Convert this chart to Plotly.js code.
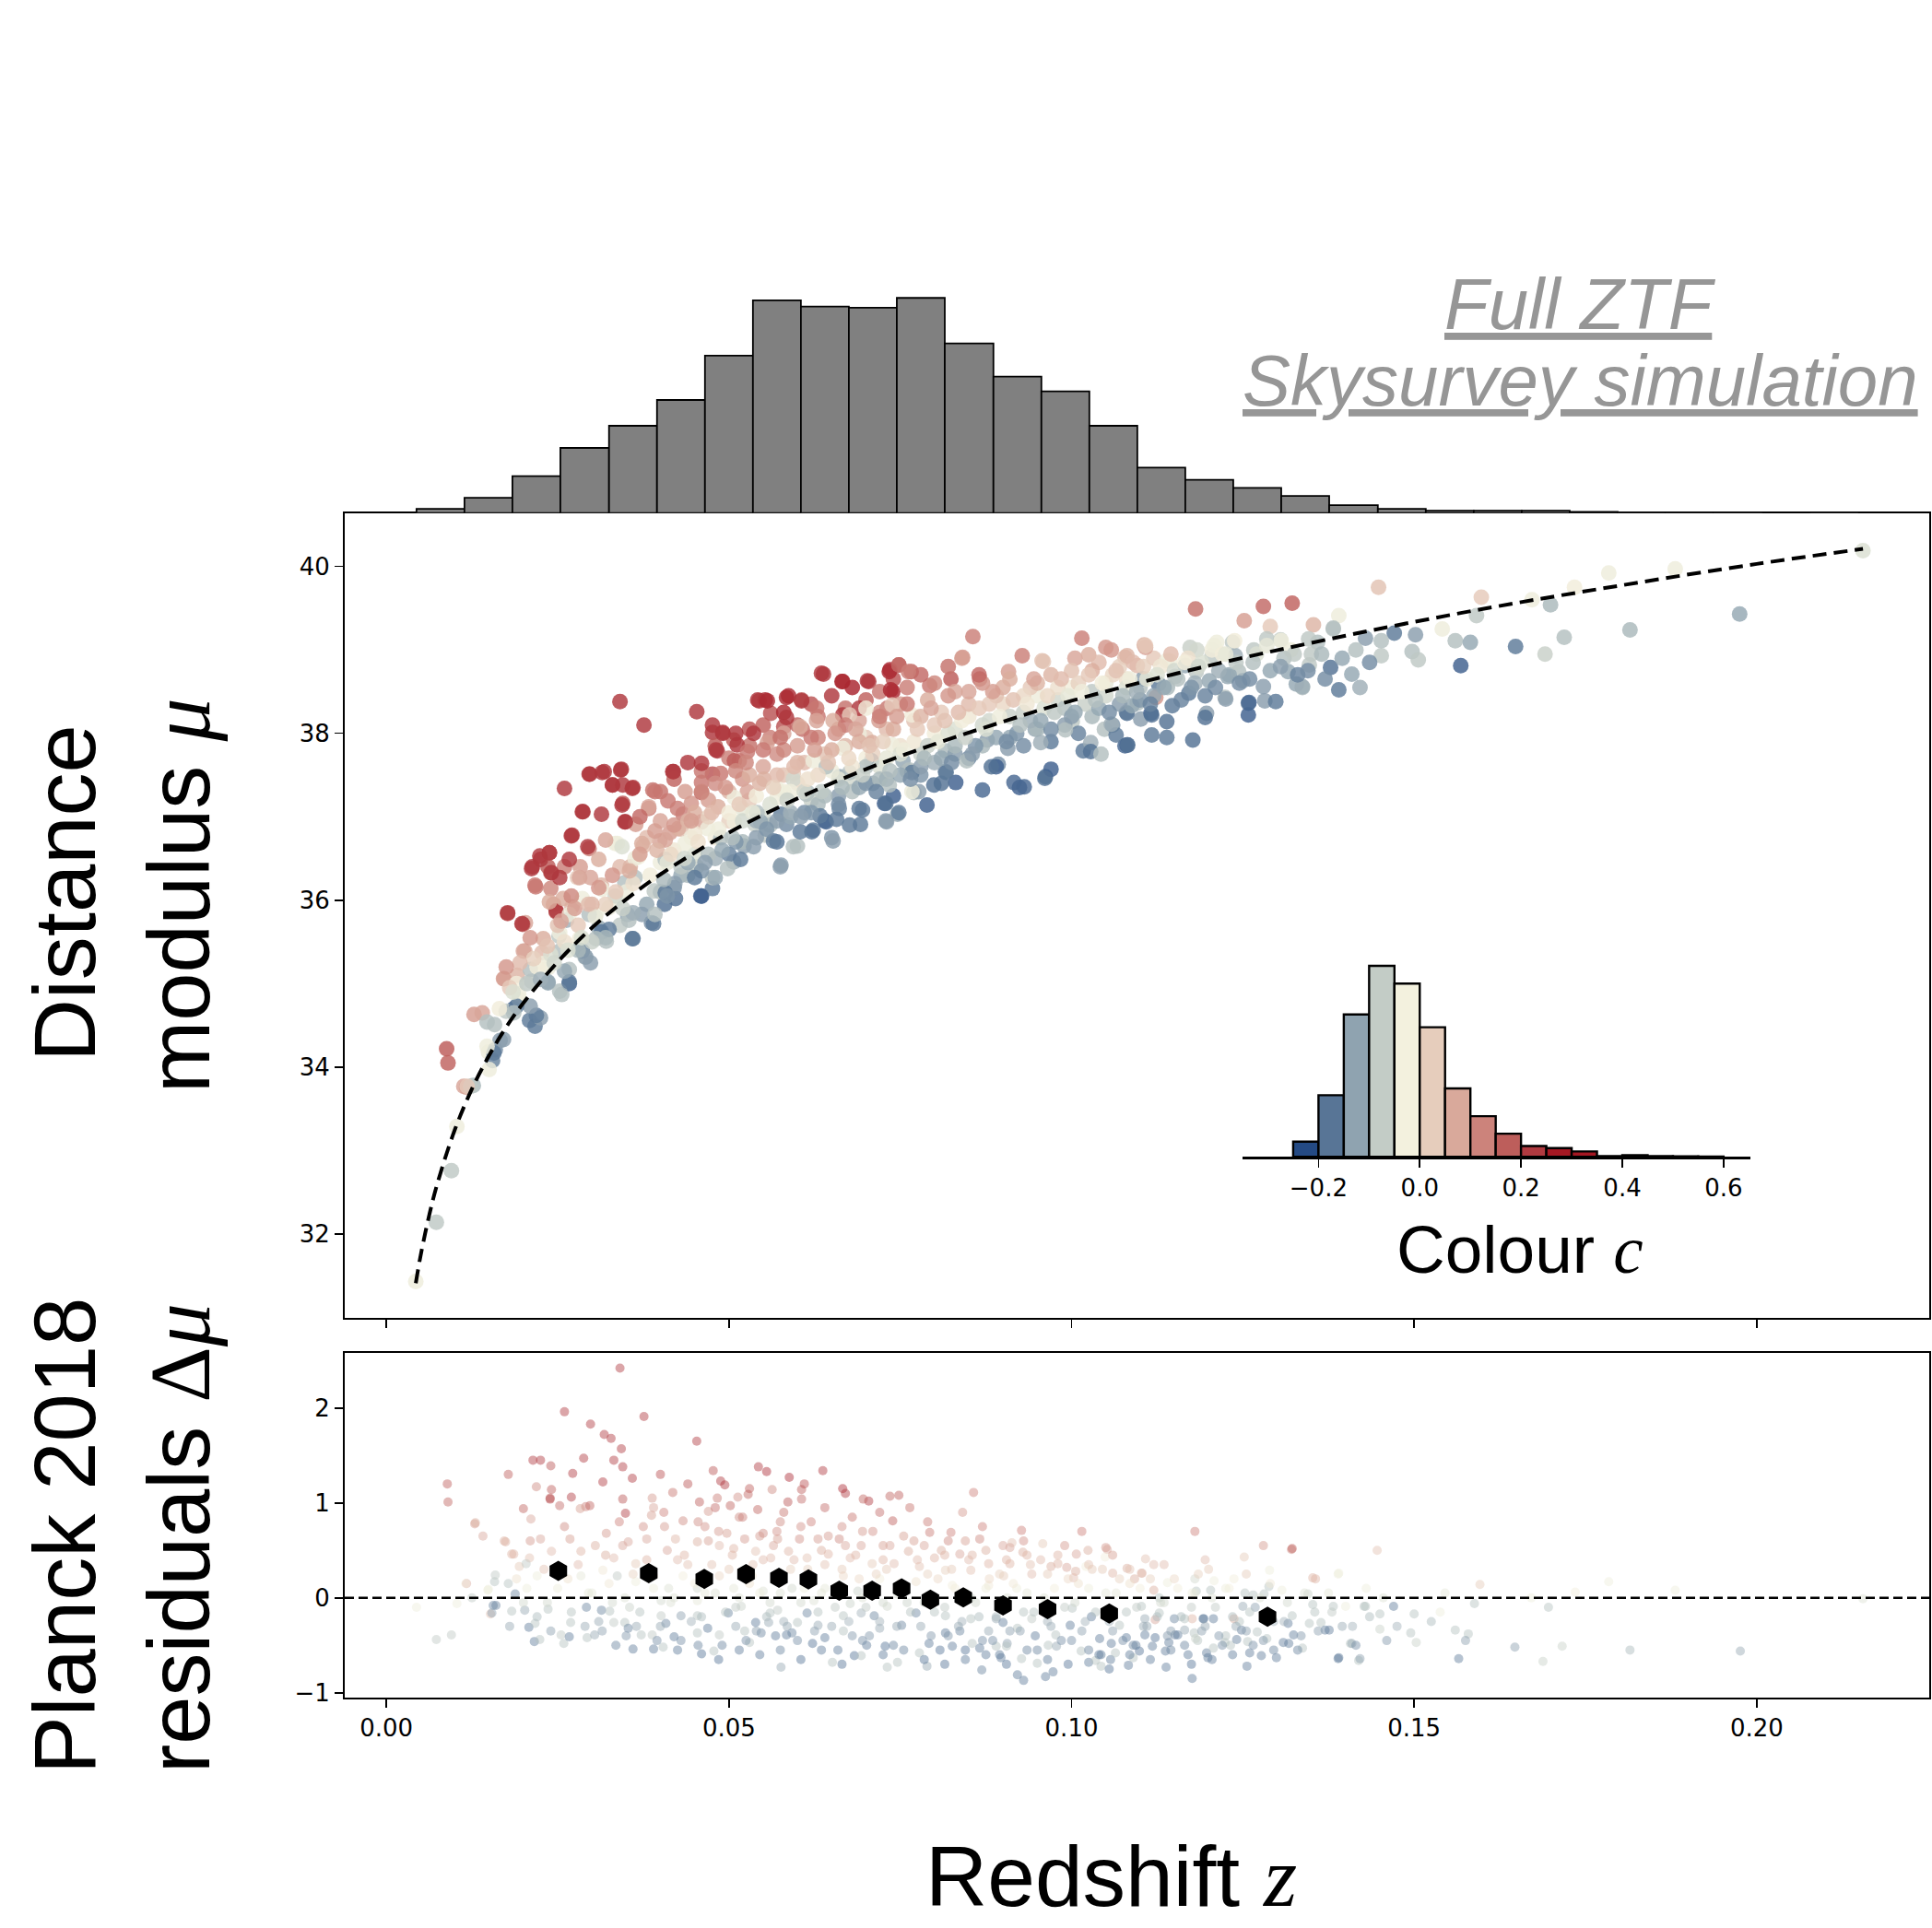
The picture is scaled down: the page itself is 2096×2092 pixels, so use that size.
<!DOCTYPE html>
<html><head><meta charset="utf-8">
<script src="https://cdn.plot.ly/plotly-3.0.1.min.js"></script>
<style>html,body{margin:0;padding:0;background:#fff}#chart{width:2096px;height:2092px}</style>
</head><body><div id="chart"></div>
<script>
// ---------------- DATA ----------------
// Redshift histogram (top panel): bin edges and counts
const zHistEdges = [0.0044,0.0114,0.0184,0.0254,0.0325,0.0395,0.0465,0.0535,0.0605,0.0675,0.0745,0.0815,0.0886,0.0956,0.1026,0.1096,0.1166,0.1236,0.1306,0.1376,0.1447,0.1517,0.1587,0.1657,0.1727,0.1797,0.1867,0.1937,0.2008,0.2078,0.2148];
const zHistCounts = [7,25,60,106,142,184,256,346,336,334,350,276,222,198,142,74,54,41,28,13,7,4,4,4,2,1,1,1,0,1];

// Colour histogram (inset)
const cHistEdges = [-0.25,-0.2,-0.15,-0.1,-0.05,0.0,0.05,0.1,0.15,0.2,0.25,0.3,0.35,0.4,0.45,0.5,0.55,0.6];
const cHistCounts = [56,226,522,700,635,475,251,149,85,40,32,20,3,6,3,2,1];
const cTickVals = [-0.2,0.0,0.2,0.4,0.6];

// Planck 2018 distance-modulus curve (dashed line): redshift, mu
const curveZ  = [0.0043,0.005,0.0063,0.0075,0.01,0.0125,0.015,0.0175,0.02,0.025,0.03,0.035,0.04,0.05,0.06,0.07,0.08,0.09,0.10,0.12,0.14,0.16,0.18,0.20,0.2155];
const curveMu = [31.41,31.74,32.24,32.62,33.25,33.74,34.14,34.48,34.77,35.26,35.67,36.01,36.31,36.81,37.22,37.57,37.87,38.14,38.39,38.81,39.17,39.49,39.77,40.03,40.21];

// Main panel SNe: [redshift z, distance modulus mu, colour c]
const mainPoints = [
[0.0043,31.43,-0.03],[0.0073,32.14,-0.08],[0.0095,32.76,-0.08],[0.0103,33.29,-0.03],[0.0088,34.22,0.18],[0.0090,34.05,0.17],
[0.0117,33.76,0.08],[0.0127,33.78,-0.10],[0.0149,34.18,-0.03],[0.0159,34.21,-0.15],[0.0155,34.08,-0.16],[0.0128,34.63,0.09],
[0.0140,34.65,0.08],[0.0158,34.51,-0.09],[0.0171,34.33,-0.13],[0.0186,34.70,-0.20],[0.0209,34.56,-0.17],[0.0217,34.49,-0.17],
[0.0225,34.59,-0.13],[0.0175,34.67,-0.08],[0.0194,34.81,-0.03],[0.0172,35.06,0.07],[0.0191,35.10,0.06],[0.0212,35.03,-0.08],
[0.0236,35.01,-0.12],[0.0256,34.87,-0.09],[0.0267,35.00,-0.20],[0.0202,35.39,0.07],[0.0203,35.73,0.08],[0.0177,35.84,0.18],
[0.0199,35.71,0.17],[0.0227,35.37,0.05],[0.0236,35.19,-0.03],[0.0252,35.57,-0.08],[0.0263,35.76,-0.11],[0.0244,35.95,0.10],
[0.0248,35.86,0.17],[0.0240,36.14,0.12],[0.0271,35.92,0.06],[0.0279,35.44,-0.03],[0.0290,35.32,-0.09],[0.0298,35.25,-0.13],
[0.0282,35.54,-0.02],[0.0310,35.67,-0.12],[0.0314,35.62,-0.18],[0.0321,35.51,-0.09],[0.0341,35.70,-0.08],[0.0360,35.54,-0.17],
[0.0352,35.83,-0.12],[0.0387,35.73,-0.15],[0.0406,35.95,-0.18],[0.0422,36.02,-0.18],[0.0460,36.05,-0.20],[0.0476,36.14,-0.17],
[0.0576,36.42,-0.13],[0.0430,36.30,-0.12],[0.0391,36.11,-0.08],[0.0348,36.21,-0.09],[0.0337,36.02,-0.03],[0.0306,35.83,-0.03],
[0.0341,36.40,0.05],[0.0314,36.18,0.06],[0.0298,36.27,0.08],[0.0283,36.40,0.09],[0.0279,36.27,0.03],[0.0260,36.40,0.13],
[0.0236,36.40,0.18],[0.0225,36.49,0.23],[0.0213,36.40,0.23],[0.0240,36.33,0.18],[0.0217,36.18,0.14],[0.0238,36.57,0.19],
[0.0267,36.49,0.23],[0.0271,36.78,0.23],[0.0287,37.06,0.23],[0.0296,36.62,0.13],[0.0260,37.34,0.23],[0.0297,37.51,0.23],
[0.0318,37.54,0.23],[0.0343,37.57,0.23],[0.0330,37.38,0.23],[0.0345,37.38,0.23],[0.0360,37.35,0.23],[0.0314,37.03,0.23],
[0.0345,37.16,0.19],[0.0348,36.94,0.23],[0.0341,38.38,0.23],[0.0376,38.10,0.23],[0.0453,38.26,0.23],[0.0418,37.54,0.23],
[0.0389,37.32,0.15],[0.0383,37.10,0.13],[0.0364,36.91,0.09],[0.0337,36.68,-0.03],[0.0356,36.40,0.06],[0.0368,36.52,-0.02],
[0.0375,36.65,0.05],[0.0399,36.71,0.08],[0.0414,36.81,0.09],[0.0433,37.03,0.13],[0.0445,37.16,0.10],[0.0460,37.29,0.17],
[0.0476,37.51,0.19],[0.0483,37.79,0.23],[0.0491,38.01,0.23],[0.0476,38.01,0.23],[0.0507,37.92,0.18],[0.0515,37.67,0.14],
[0.0530,38.05,0.19],[0.0542,38.40,0.23],[0.0553,38.40,0.25],[0.0561,38.24,0.19],[0.0584,38.43,0.25],[0.0606,38.40,0.18],
[0.0580,38.08,0.19],[0.0607,38.05,0.15],[0.0638,38.71,0.23],[0.0665,38.62,0.25],[0.0704,38.62,0.23],[0.0735,38.76,0.25],
[0.0748,38.82,0.18],[0.0766,38.74,0.17],[0.0739,38.50,0.25],[0.0731,38.30,0.14],[0.0793,38.57,0.14],[0.0824,38.65,0.18],
[0.0841,38.91,0.10],[0.0856,39.16,0.13],[0.0866,38.65,0.16],[0.0928,38.93,0.13],[0.0908,38.74,0.09],[0.0959,38.86,0.03],
[0.1005,38.90,0.08],[0.1015,39.14,0.13],[0.1050,39.03,0.10],[0.1025,38.94,0.07],[0.1078,38.91,0.05],[0.1106,39.06,0.06],
[0.0870,37.32,-0.19],[0.0924,37.35,-0.20],[0.0916,37.41,-0.19],[0.0962,37.48,-0.18],[0.0970,37.57,-0.20],[0.0789,37.14,-0.20],
[0.0727,37.16,-0.20],[0.0650,36.75,-0.14],[0.0692,36.91,-0.17],[0.0642,36.94,-0.19],[0.0600,36.65,-0.09],[0.0623,36.84,-0.17],
[0.0661,37.10,-0.16],[0.0746,37.03,-0.12],[0.0770,37.29,-0.09],[0.0816,37.54,-0.16],[0.0831,37.41,-0.20],[0.0893,37.63,-0.15],
[0.1017,37.79,-0.17],[0.1028,37.89,-0.11],[0.1078,37.85,-0.19],[0.1117,37.98,-0.17],[0.1101,38.17,-0.13],[0.1048,38.05,-0.09],
[0.1001,38.14,-0.08],[0.0947,38.05,-0.12],[0.0877,37.92,-0.13],[0.0816,37.79,-0.10],[0.0754,37.67,-0.12],[0.0708,37.67,-0.16],
[0.0661,37.48,-0.12],[0.0615,37.29,-0.09],[0.0576,37.03,-0.16],[0.0553,36.78,-0.08],[0.0522,36.65,-0.13],[0.0507,36.46,-0.11],
[0.0476,36.27,-0.08],[0.0453,36.40,-0.07],[0.0538,36.91,-0.07],[0.0584,36.91,-0.15],
[0.035,36.10,-0.03],[0.040,36.45,-0.03],[0.042,36.60,-0.01],[0.045,36.55,-0.05],[0.048,36.75,-0.02],[0.050,36.95,0.02],
[0.052,37.10,-0.04],[0.055,37.00,-0.06],[0.058,37.30,-0.02],[0.060,37.40,0.01],[0.062,37.20,-0.07],[0.065,37.55,-0.03],
[0.068,37.45,-0.06],[0.070,37.70,-0.02],[0.072,37.60,-0.05],[0.075,37.85,0.00],[0.078,37.75,-0.07],[0.080,38.00,-0.02],
[0.083,38.05,-0.05],[0.085,38.20,-0.01],[0.088,38.15,-0.06],[0.090,38.35,0.01],[0.093,38.25,-0.07],[0.095,38.45,-0.03],
[0.098,38.40,-0.06],[0.100,38.55,-0.02],[0.103,38.50,-0.08],[0.105,38.60,-0.04],[0.108,38.65,0.00],[0.110,38.55,-0.09],
[0.038,36.75,0.05],[0.040,36.95,0.08],[0.043,36.85,0.04],[0.045,37.05,0.07],[0.047,37.20,0.09],[0.050,37.30,0.06],
[0.052,37.45,0.10],[0.053,37.20,0.03],[0.055,37.60,0.08],[0.057,37.75,0.11],[0.058,37.50,0.04],[0.060,37.85,0.09],
[0.061,37.65,0.05],[0.063,37.95,0.12],[0.064,37.75,0.04],[0.066,38.05,0.10],[0.067,37.85,0.06],[0.069,38.15,0.08],
[0.070,37.95,0.03],[0.072,38.25,0.11],[0.073,38.05,0.05],[0.075,38.35,0.09],[0.077,38.15,0.04],[0.079,38.40,0.07],
[0.081,38.25,0.03],[0.083,38.50,0.08],[0.085,38.35,0.05],[0.087,38.60,0.10],[0.089,38.45,0.04],[0.091,38.65,0.07],
[0.094,38.55,0.03],[0.097,38.70,0.06],[0.100,38.75,0.04],[0.104,38.85,0.05],[0.107,38.80,0.02],[0.112,38.90,0.03],
[0.040,37.30,0.15],[0.042,37.45,0.17],[0.044,37.65,0.23],[0.046,37.55,0.14],[0.048,37.85,0.18],[0.050,37.70,0.13],
[0.051,38.00,0.23],[0.053,37.85,0.15],[0.055,38.10,0.17],[0.056,37.95,0.13],[0.058,38.25,0.25],[0.060,38.10,0.16],
[0.062,38.35,0.19],[0.063,38.20,0.14],[0.065,38.45,0.23],[0.067,38.30,0.15],[0.068,38.55,0.26],[0.070,38.40,0.17],
[0.072,38.50,0.14],[0.074,38.65,0.19],[0.076,38.55,0.13],[0.078,38.70,0.16],[0.080,38.60,0.12],[0.082,38.80,0.15],
[0.038,35.95,-0.12],[0.040,36.10,-0.09],[0.042,36.15,-0.15],[0.044,36.30,-0.10],[0.046,36.35,-0.14],[0.048,36.50,-0.11],
[0.050,36.55,-0.16],[0.052,36.70,-0.10],[0.054,36.75,-0.13],[0.056,36.90,-0.09],[0.057,36.70,-0.18],[0.059,37.00,-0.12],
[0.061,37.05,-0.15],[0.063,37.15,-0.10],[0.064,36.95,-0.19],[0.066,37.25,-0.13],[0.068,37.30,-0.09],[0.069,37.10,-0.17],
[0.071,37.40,-0.12],[0.073,37.45,-0.15],[0.074,37.25,-0.20],[0.076,37.55,-0.10],[0.078,37.50,-0.14],[0.080,37.65,-0.11],
[0.081,37.40,-0.18],[0.083,37.75,-0.13],[0.085,37.70,-0.16],[0.087,37.85,-0.10],[0.089,37.60,-0.20],[0.091,37.95,-0.12],
[0.093,37.85,-0.15],[0.095,38.05,-0.10],[0.097,37.90,-0.17],[0.099,38.10,-0.13],[0.101,38.00,-0.16],[0.103,38.20,-0.10],
[0.106,38.10,-0.14],[0.108,38.25,-0.12],
[0.1181,39.49,0.15],[0.1252,39.35,0.09],[0.1280,39.52,0.16],[0.1322,39.56,0.17],[0.1290,39.28,0.03],[0.1353,39.30,0.06],
[0.1448,39.75,0.04],[0.1390,39.41,-0.03],[0.1382,39.25,-0.08],[0.1429,39.14,-0.13],[0.1471,39.20,-0.17],[0.1502,39.18,-0.13],
[0.1452,39.11,-0.09],[0.1452,38.93,-0.08],[0.1497,38.98,-0.09],[0.1506,38.88,-0.08],[0.1541,39.25,-0.03],[0.1560,39.11,-0.09],
[0.1582,39.09,-0.12],[0.1568,38.81,-0.20],[0.1591,39.41,-0.08],[0.1598,39.63,0.03],[0.1648,39.04,-0.17],[0.1672,39.60,-0.03],
[0.1699,39.54,-0.10],[0.1691,38.95,-0.07],[0.1719,39.15,-0.09],[0.1734,39.75,-0.02],[0.1784,39.92,-0.03],[0.1815,39.24,-0.10],
[0.1881,39.97,-0.03],[0.1975,39.43,-0.12],[0.2155,40.19,-0.05],[0.1235,39.09,-0.08],[0.1205,38.93,-0.08],[0.1166,38.81,-0.12],
[0.1127,38.59,-0.17],[0.1116,38.24,-0.20],[0.1139,38.14,-0.18],[0.1177,37.92,-0.18],[0.1197,38.24,-0.13],[0.1224,38.43,-0.09],
[0.1258,38.36,-0.17],[0.1258,38.22,-0.20],[0.1282,38.39,-0.13],[0.1298,38.38,-0.17],[0.1316,38.74,-0.12],[0.1337,38.55,-0.10],
[0.1347,38.82,-0.08],[0.1378,38.79,-0.18],[0.1390,38.52,-0.17],[0.1409,38.71,-0.12],[0.1421,38.55,-0.11],[0.1320,39.00,-0.03],
[0.1266,39.00,-0.08],[0.1205,39.00,-0.02],[0.1143,38.87,-0.03],[0.1096,38.81,0.05],[0.1081,38.93,0.06],[0.1108,39.03,0.08],
[0.1058,39.00,0.10],[0.1123,38.43,0.10],[0.1096,38.36,-0.09],[0.1081,38.24,-0.18],[0.1065,37.98,-0.17],[0.1081,37.86,-0.19],
[0.1139,37.95,-0.17],[0.1228,38.68,-0.12],[0.1244,38.74,-0.09],[0.1182,38.74,-0.08],[0.1151,38.68,-0.09],[0.1104,38.65,-0.13],
[0.1305,39.12,-0.07],[0.1359,39.09,-0.09],[0.1239,38.93,-0.11],[0.1173,39.03,-0.07],[0.1212,39.09,-0.03],
[0.1108,39.05,0.03],[0.0957,38.87,0.04],[0.0840,38.90,0.09],[0.0865,38.70,0.16],[0.1139,38.87,-0.03],[0.1183,39.00,-0.06],
[0.1208,39.05,-0.03],[0.1238,39.11,-0.02],[0.1285,39.13,-0.08],[0.1306,39.11,-0.03],[0.1346,39.13,-0.08],[0.1382,39.26,-0.09],
[0.1259,38.37,-0.19],[0.1328,38.59,-0.12],[0.1337,38.56,-0.11],[0.0961,37.46,-0.18],[0.0931,37.36,-0.19],[0.0730,36.94,-0.13],
[0.1028,37.78,-0.18],[0.1043,37.75,-0.09],[0.1082,37.86,-0.18],[0.1117,38.22,-0.18],[0.1147,38.33,-0.17],[0.1195,38.19,-0.18],
[0.1225,38.41,-0.13],[0.1250,38.63,-0.11],[0.1280,38.56,-0.13],[0.1201,38.63,-0.12],[0.1171,38.48,-0.17],[0.1088,38.33,-0.12],
[0.1058,38.11,-0.11],[0.0991,38.04,-0.09],[0.0955,37.89,-0.11],[0.0907,37.82,-0.13],[0.0883,37.60,-0.18],[0.0847,37.67,-0.09],
[0.0817,37.53,-0.17],[0.0799,37.38,-0.18],[0.0763,37.56,-0.09],
[0.0296,37.51,0.23],[0.0315,37.53,0.23],[0.0342,37.56,0.23],[0.0330,37.38,0.23],[0.0359,37.34,0.23],[0.0286,37.06,0.23],
[0.0344,37.14,0.23],[0.0349,36.94,0.23],[0.0270,36.77,0.23],[0.0294,36.64,0.23],[0.0224,36.53,0.23],[0.0238,36.57,0.23],
[0.0212,36.38,0.23],[0.0241,36.33,0.23],[0.0253,36.27,0.23],[0.0218,36.16,0.14],[0.0177,35.85,0.23],[0.0198,35.72,0.23],
[0.0248,35.87,0.23],[0.0419,37.54,0.23],[0.0460,37.64,0.23],[0.0476,38.10,0.23],[0.0491,38.00,0.23],[0.0544,38.39,0.23],
[0.0556,38.39,0.25],[0.0587,38.45,0.25],[0.0606,38.39,0.23],[0.0635,38.72,0.23],[0.0666,38.62,0.25],[0.0702,38.63,0.23],
[0.0734,38.74,0.25],[0.0748,38.82,0.16],[0.0762,38.74,0.13],[0.0736,38.52,0.25],[0.0536,38.00,0.23],[0.0584,38.19,0.23],
[0.0628,38.30,0.14],[0.0666,38.22,0.23],[0.0690,38.30,0.23],[0.0719,38.15,0.09],[0.0512,37.86,0.23],[0.0481,37.80,0.23],
[0.0392,37.30,0.14],[0.0383,37.12,0.08],[0.0411,37.19,0.14],[0.0436,37.30,0.09],[0.0460,37.41,0.14],[0.0488,37.52,0.14],
[0.0508,37.67,0.18],[0.0527,37.78,0.14],[0.0556,37.89,0.09],[0.0580,38.00,0.08],[0.0604,38.08,0.07],[0.0628,38.15,0.08],
[0.0652,38.15,0.07],[0.0676,38.22,0.03],[0.0700,38.30,-0.02],[0.0738,38.34,0.03],[0.0767,38.22,-0.02],[0.0738,37.86,-0.03],
[0.0709,37.89,0.07],[0.0690,38.00,-0.03],[0.0666,37.82,-0.03],[0.0623,37.67,-0.03],[0.0594,37.52,0.02],[0.0570,37.34,-0.03],
[0.0551,37.45,0.07],[0.0527,37.30,0.08],[0.0508,37.23,-0.03],[0.0484,37.12,0.07],[0.0460,36.94,0.08],[0.0445,36.75,-0.03],
[0.0426,36.86,0.07],[0.0407,36.72,0.08],[0.0392,36.83,0.09],[0.0373,36.68,0.07],[0.0363,36.50,-0.03],[0.0334,36.68,-0.03],
[0.0320,36.72,0.08],[0.0310,36.49,0.07],[0.0282,36.27,0.08],[0.0315,36.13,-0.03],[0.0286,36.02,-0.03],[0.0258,36.02,0.07],
[0.0238,35.98,0.07],[0.0229,35.54,0.07],[0.0200,35.39,0.08],[0.0171,35.06,0.09],[0.0193,34.88,-0.03],[0.0113,33.77,0.08],
[0.0123,33.77,-0.08],
[0.0459,36.05,-0.20],[0.0359,35.54,-0.17],[0.0390,35.72,-0.17],[0.0575,36.40,-0.13],[0.0621,36.82,-0.18],[0.0652,36.71,-0.13],
[0.0676,36.90,-0.17],[0.0729,36.95,-0.13],[0.0729,37.16,-0.18],[0.0695,37.08,-0.17],[0.0657,36.97,-0.17],[0.0633,37.01,-0.17],
[0.0604,36.82,-0.17],[0.0594,36.64,-0.09],[0.0565,36.71,-0.17],[0.0546,36.94,-0.12],[0.0536,36.64,-0.13],[0.0517,36.49,-0.17],
[0.0498,36.38,-0.09],[0.0480,36.27,-0.12],[0.0450,36.27,-0.17],[0.0421,36.20,-0.13],[0.0407,36.09,-0.17],[0.0373,35.83,-0.13],
[0.0392,35.83,-0.09],[0.0354,35.76,-0.09],[0.0325,35.65,-0.17],[0.0306,35.54,-0.09],[0.0286,35.39,-0.17],[0.0291,35.32,-0.13],
[0.0267,35.17,-0.09],[0.0253,34.91,-0.09],[0.0267,35.02,-0.17],[0.0236,35.02,-0.12],[0.0219,34.62,-0.17],[0.0210,34.73,-0.13],
[0.0190,34.73,-0.17],[0.0166,34.32,-0.13],[0.0157,34.17,-0.17],[0.0767,37.53,-0.17],[0.0777,37.30,-0.13],[0.0748,37.05,-0.17],
[0.0344,36.64,-0.05],[0.0363,36.27,-0.09],[0.0407,36.49,-0.09],[0.0436,36.68,-0.03],[0.0469,36.86,-0.03],[0.0488,36.75,-0.09],
[0.0508,36.94,-0.03],[0.0541,37.05,-0.09],[0.0570,37.23,-0.03],[0.0594,37.45,-0.06],[0.0613,37.27,-0.09],[0.0642,37.60,-0.09],
[0.0676,37.53,-0.09],[0.0700,37.60,-0.09],[0.0734,37.38,-0.09],[0.0767,37.30,-0.03],[0.0253,35.61,-0.03],[0.0267,35.83,-0.03],
[0.0296,35.83,-0.09],[0.0325,35.91,-0.03],[0.0334,36.05,-0.06],[0.0253,35.39,-0.09],[0.0229,35.24,-0.03],[0.0210,35.17,-0.09],
[0.0186,34.65,-0.09],[0.0147,34.54,-0.09],[0.0147,34.25,-0.03],[0.0150,33.97,-0.03],[0.0118,33.77,0.03],
[0.032,35.95,0.02],[0.032,35.55,-0.10],[0.033,36.30,0.10],[0.036,36.20,0.00],[0.036,35.85,-0.11],[0.037,36.55,0.09],[0.037,37.00,0.16],
[0.041,36.45,-0.04],[0.041,36.05,-0.14],[0.042,36.90,0.10],[0.043,36.40,-0.08],[0.044,36.95,0.06],[0.044,36.45,-0.12],[0.045,36.80,-0.01],
[0.046,37.30,0.12],[0.047,36.55,-0.09],[0.047,37.00,0.02],[0.048,37.40,0.11],[0.049,36.60,-0.12],[0.050,37.05,-0.02],[0.051,36.70,-0.14],
[0.051,37.55,0.12],[0.052,36.95,-0.06],[0.053,37.50,0.07],[0.054,36.95,-0.11],[0.054,37.25,-0.02],[0.055,37.80,0.14],[0.056,37.15,-0.05],
[0.057,37.50,0.05],[0.057,36.95,-0.13],[0.058,37.80,0.12],[0.059,37.30,-0.03],[0.059,37.05,-0.11],[0.060,37.65,0.06],[0.061,37.30,-0.06],
[0.062,37.95,0.14],[0.062,37.05,-0.14],[0.063,37.50,0.01],[0.064,37.25,-0.10],[0.065,37.80,0.07],[0.066,37.45,-0.04],[0.066,37.15,-0.15],
[0.067,38.10,0.13],[0.068,37.60,-0.01],[0.069,37.35,-0.12],[0.069,37.90,0.07],[0.070,37.40,-0.14],[0.071,37.75,0.02],[0.072,37.45,-0.10],
[0.072,38.20,0.13],[0.073,37.70,-0.04],[0.074,38.05,0.07],[0.075,37.50,-0.12],[0.075,37.75,-0.05],[0.076,38.35,0.14],[0.077,37.90,-0.01],
[0.078,37.60,-0.13],[0.078,38.20,0.06],[0.079,37.85,-0.07],[0.080,38.10,0.03],[0.081,37.70,-0.12],[0.082,38.00,-0.05],[0.082,38.45,0.10],
[0.083,37.85,-0.10],[0.084,38.15,-0.02],[0.085,38.50,0.08],[0.086,37.85,-0.14],[0.087,38.10,-0.06],[0.088,38.35,0.03],[0.089,37.95,-0.12],
[0.090,38.55,0.07],[0.091,38.20,-0.07],[0.092,38.00,-0.14],[0.093,38.45,0.01],[0.094,38.15,-0.11],[0.095,38.60,0.06],[0.096,38.30,-0.05],
[0.097,38.05,-0.15],[0.098,38.55,0.00],[0.099,38.30,-0.09],[0.100,38.20,-0.13],[0.101,38.60,0.02],[0.102,38.35,-0.07],[0.103,38.75,0.07],
[0.104,38.30,-0.12],[0.105,38.45,-0.06],[0.106,38.70,0.01],[0.107,38.35,-0.13],[0.108,38.55,-0.05],[0.109,38.85,0.05],[0.110,38.40,-0.14],
[0.111,38.65,-0.04],[0.112,38.45,-0.12],[0.113,38.80,-0.01],[0.114,38.55,-0.10],[0.115,38.75,-0.06],[0.116,38.40,-0.16],[0.117,38.90,0.00],
[0.118,38.60,-0.11],[0.119,38.85,-0.05],[0.121,38.55,-0.15],[0.122,38.95,-0.02],[0.123,38.70,-0.12],[0.124,38.85,-0.08],[0.126,38.65,-0.15],
[0.127,38.95,-0.05],[0.129,38.75,-0.12],[0.131,38.90,-0.09],[0.133,38.70,-0.16],[0.135,38.95,-0.08],[0.137,38.65,-0.15],
[0.022,35.20,-0.02],[0.024,35.35,-0.05],[0.026,35.50,0.00],[0.026,35.15,-0.12],[0.028,35.70,0.03],[0.028,35.40,-0.10],[0.030,35.95,0.06],
[0.030,35.50,-0.07],[0.031,36.15,0.10],[0.027,36.05,0.12],[0.025,35.70,0.04],[0.021,35.55,0.10],[0.019,35.00,-0.02],[0.018,34.95,0.03],
[0.0305,35.80,-0.04],[0.0335,36.10,0.03],[0.0345,35.90,-0.07],[0.0355,36.35,0.07],[0.0385,36.30,-0.02],[0.0395,36.60,0.06],
[0.0405,36.25,-0.10],[0.0415,36.55,0.01],[0.0425,37.10,0.13],[0.0435,36.50,-0.06],[0.0445,36.95,0.09],[0.0455,36.70,0.00],
[0.0465,36.45,-0.13],[0.0475,37.05,0.05],[0.0485,36.85,-0.03],[0.0495,37.35,0.10],[0.0505,36.75,-0.09],[0.0515,37.15,0.03],
[0.0525,37.65,0.12],[0.0535,37.05,-0.04],[0.0545,37.40,0.06],[0.0555,36.85,-0.14],[0.0565,37.35,0.02],[0.0575,37.95,0.15],
[0.0585,37.20,-0.07],[0.0595,37.60,0.05],[0.0605,37.00,-0.13],[0.0615,37.45,0.00],[0.0625,37.80,0.09],[0.0635,37.30,-0.08],
[0.0645,37.65,0.04],[0.0655,38.00,0.10],[0.0665,37.35,-0.10],[0.0675,37.70,0.01],[0.0685,38.05,0.08],[0.0695,37.50,-0.07],
[0.0705,37.85,0.04],[0.0715,37.30,-0.16],[0.0725,37.90,0.02],[0.0735,37.55,-0.09],[0.0745,38.20,0.09],[0.0755,37.80,-0.03],
[0.0765,37.45,-0.15],[0.0775,38.05,0.03],[0.0785,37.70,-0.10],[0.0795,38.30,0.08],[0.0805,37.90,-0.04],[0.0815,38.15,0.04],
[0.0825,37.65,-0.15],[0.0835,38.25,0.05],[0.0845,37.95,-0.07],[0.0855,37.75,-0.13],[0.0865,38.30,0.03],[0.0875,38.05,-0.05],
[0.0885,38.50,0.09],[0.0895,38.20,-0.03],[0.0905,37.90,-0.15],[0.0915,38.40,0.04],[0.0925,38.10,-0.09],[0.0935,38.35,-0.01],
[0.0945,38.65,0.08],[0.0955,38.15,-0.12],[0.0965,38.45,0.01],[0.0975,38.25,-0.08],[0.0985,38.65,0.05],[0.0995,38.45,-0.04],
[0.1005,38.25,-0.12],[0.1015,38.50,-0.03],[0.1025,38.70,0.03],[0.1035,38.40,-0.09],[0.1045,38.60,-0.02],[0.1055,38.25,-0.15],
[0.1065,38.75,0.04],[0.1075,38.45,-0.10],[0.1085,38.65,-0.03],[0.1095,38.50,-0.11],[0.1105,38.80,0.02],[0.1115,38.35,-0.16],
[0.1125,38.70,-0.05],[0.1135,38.55,-0.12],[0.1145,38.95,0.05],[0.1155,38.65,-0.09],[0.1165,38.85,-0.02],[0.1175,38.55,-0.14],
[0.1185,38.80,-0.06],[0.1195,38.45,-0.16],[0.1215,38.75,-0.11],[0.1225,38.95,-0.04],[0.1245,38.60,-0.15],[0.1265,38.85,-0.09],
[0.1285,39.05,-0.04],[0.1305,38.80,-0.13],[0.1325,38.95,-0.08],[0.1345,38.75,-0.15],[0.1365,38.95,-0.10],[0.1395,38.90,-0.12],
[0.1415,39.00,-0.09],[0.1435,38.85,-0.15],
[0.0205,35.00,-0.08],[0.0215,35.30,0.02],[0.0225,35.05,-0.11],[0.0235,35.45,0.04],[0.0245,35.25,-0.06],[0.0255,35.75,0.08],
[0.0265,35.40,-0.05],[0.0275,35.90,0.09],[0.0285,35.55,-0.05],[0.0295,35.95,0.05],[0.0195,35.25,0.05],[0.0185,34.90,-0.05],
[0.0165,34.70,-0.02],[0.0175,35.20,0.10]
];

// Residual panel SNe: [redshift z, residual delta-mu, colour c]
const residualPoints = [
[0.0044,-0.10,-0.03],[0.0073,-0.44,-0.08],[0.0095,-0.39,-0.08],[0.0103,-0.06,-0.03],[0.0089,1.20,0.18],[0.0090,1.01,0.17],
[0.0117,0.15,0.08],[0.0129,0.78,0.09],[0.0141,0.65,0.08],[0.0125,0.00,-0.08],[0.0149,0.09,-0.03],[0.0152,-0.17,0.04],
[0.0160,-0.08,-0.16],[0.0158,0.17,-0.09],[0.0174,0.59,0.07],[0.0178,1.30,0.18],[0.0186,0.46,0.06],[0.0200,0.94,0.17],
[0.0211,0.83,0.08],[0.0214,1.45,0.23],[0.0225,1.45,0.23],[0.0219,1.17,0.12],[0.0240,1.39,0.19],[0.0241,1.14,0.18],
[0.0239,1.04,0.23],[0.0260,1.96,0.23],[0.0253,0.97,0.16],[0.0270,1.06,0.23],[0.0272,1.31,0.23],[0.0288,1.47,0.23],
[0.0298,1.83,0.23],[0.0318,1.72,0.23],[0.0328,1.68,0.23],[0.0341,2.42,0.23],[0.0332,1.45,0.23],[0.0343,1.57,0.23],
[0.0345,1.38,0.23],[0.0316,1.22,0.23],[0.0359,1.26,0.23],[0.0376,1.91,0.23],[0.0349,0.89,0.23],[0.0345,1.04,0.19],
[0.0291,0.96,0.13],[0.0283,0.94,0.09],[0.0453,1.65,0.23],[0.0477,1.34,0.19],[0.0488,1.23,0.23],[0.0494,1.19,0.23],
[0.0543,1.38,0.23],[0.0555,1.33,0.25],[0.0588,1.27,0.25],[0.0637,1.34,0.23],[0.0666,1.15,0.25],[0.0670,1.10,0.23],
[0.0704,1.02,0.23],[0.0735,1.07,0.17],[0.0748,1.08,0.18],[0.0764,0.95,0.15],[0.0857,1.11,0.13],[0.0841,0.90,0.10],
[0.0793,0.69,0.14],[0.0824,0.69,0.13],[0.0866,0.62,0.12],[0.0927,0.71,0.13],[0.1015,0.70,0.13],[0.1050,0.53,0.10],
[0.1102,0.26,0.06],
[0.0130,0.79,0.07],[0.0172,0.60,0.06],[0.0239,1.05,0.18],[0.0297,0.97,0.17],[0.0388,1.05,0.10],[0.0390,0.95,0.08],
[0.0387,0.87,0.09],[0.0418,1.11,0.15],[0.0457,1.01,0.18],[0.0483,1.05,0.14],[0.0470,0.91,0.10],[0.0502,0.97,0.17],
[0.0513,1.06,0.11],[0.0528,1.09,0.17],[0.0542,0.93,0.17],[0.0563,1.14,0.12],[0.0586,1.01,0.19],[0.0606,1.14,0.18],
[0.0606,1.04,0.16],[0.0696,1.04,0.17],[0.0739,0.81,0.18],
[0.0380,0.62,0.08],[0.0406,0.75,0.10],[0.0422,0.62,0.06],[0.0433,0.81,0.12],[0.0454,0.59,0.07],[0.0465,0.75,0.11],
[0.0486,0.55,0.05],[0.0497,0.68,0.09],[0.0507,0.52,0.06],[0.0523,0.62,0.10],[0.0539,0.49,0.04],[0.0550,0.68,0.12],
[0.0561,0.42,0.05],[0.0571,0.62,0.09],[0.0587,0.49,0.06],[0.0603,0.62,0.11],[0.0614,0.42,0.04],[0.0630,0.62,0.10],
[0.0645,0.46,0.06],[0.0661,0.62,0.12],[0.0677,0.42,0.05],[0.0693,0.55,0.08],[0.0709,0.36,0.03],[0.0725,0.55,0.09],
[0.0741,0.36,0.05],[0.0762,0.49,0.07],[0.0778,0.33,0.04],[0.0800,0.42,0.06],[0.0816,0.29,0.02],[0.0837,0.46,0.08],
[0.0853,0.29,0.04],[0.0879,0.36,0.06],[0.0901,0.23,0.03],[0.0305,0.55,0.07],[0.0321,0.68,0.10],[0.0332,0.42,0.05],
[0.0353,0.59,0.08],[0.0364,0.36,0.03],[0.0284,0.49,0.06],[0.0268,0.62,0.09],[0.0241,0.49,0.05],[0.0225,0.62,0.08],
[0.0209,0.42,0.04],[0.0194,0.33,0.03],[0.0183,0.46,0.06],
[0.0116,0.15,-0.02],[0.0148,0.08,-0.03],[0.0159,0.24,-0.08],[0.0178,0.15,-0.09],[0.0204,0.36,-0.08],[0.0220,0.23,-0.03],
[0.0257,0.29,-0.02],[0.0284,0.23,-0.04],[0.0316,0.29,-0.01],[0.0337,0.23,-0.08],[0.0364,0.17,-0.03],[0.0390,0.23,0.00],
[0.0412,0.10,-0.05],[0.0433,0.23,-0.02],[0.0454,0.10,-0.06],[0.0486,0.23,0.01],[0.0507,0.10,-0.04],[0.0534,0.23,-0.01],
[0.0550,0.07,-0.05],[0.0576,0.23,0.00],[0.0592,0.10,-0.06],[0.0614,0.23,-0.02],[0.0640,0.10,-0.04],[0.0667,0.23,0.01],
[0.0688,0.07,-0.07],[0.0720,0.20,-0.02],[0.0746,0.04,-0.05],[0.0773,0.17,0.00],[0.0800,0.00,-0.06],[0.0826,0.13,-0.02],
[0.0853,0.00,-0.07],[0.0879,0.13,-0.01],[0.0906,0.00,-0.05],[0.0348,0.00,-0.05],[0.0401,-0.03,-0.06],[0.0454,-0.03,-0.04],
[0.0518,-0.09,-0.07],[0.0571,-0.13,-0.08],[0.0624,-0.03,-0.05],[0.0677,-0.06,-0.07],[0.0731,-0.09,-0.06],
[0.0156,-0.08,-0.16],[0.0154,-0.16,-0.13],[0.0183,-0.14,-0.09],[0.0188,0.04,-0.16],[0.0202,-0.13,-0.12],[0.0208,-0.31,-0.17],
[0.0217,-0.27,-0.09],[0.0216,-0.46,-0.17],[0.0224,-0.44,-0.09],[0.0236,-0.12,-0.09],[0.0255,-0.39,-0.08],[0.0259,-0.48,-0.09],
[0.0267,-0.41,-0.17],[0.0269,-0.26,-0.09],[0.0292,-0.10,-0.16],[0.0293,-0.42,-0.09],[0.0304,-0.39,-0.12],[0.0314,-0.13,-0.16],
[0.0326,-0.14,-0.09],[0.0332,-0.26,-0.08],[0.0348,-0.26,-0.09],[0.0353,-0.32,-0.16],[0.0360,-0.54,-0.17],[0.0372,-0.39,-0.09],
[0.0388,-0.39,-0.08],[0.0390,-0.54,-0.17],[0.0404,-0.52,-0.09],[0.0408,-0.27,-0.16],[0.0420,-0.41,-0.17],[0.0430,-0.19,-0.13],
[0.0454,-0.37,-0.09],[0.0460,-0.59,-0.18],[0.0469,-0.32,-0.17],[0.0478,-0.56,-0.09],[0.0486,-0.39,-0.08],[0.0499,-0.16,-0.16],
[0.0510,-0.30,-0.12],[0.0523,-0.35,-0.09],[0.0530,-0.47,-0.09],[0.0539,-0.26,-0.17],[0.0547,-0.37,-0.16],[0.0558,-0.26,-0.12],
[0.0568,-0.40,-0.17],[0.0576,-0.73,-0.12],[0.0584,-0.39,-0.17],[0.0592,-0.37,-0.16],[0.0600,-0.26,-0.09],[0.0614,-0.16,-0.16],
[0.0622,-0.48,-0.18],[0.0630,-0.29,-0.12],[0.0640,-0.42,-0.17],[0.0651,-0.68,-0.09],[0.0659,-0.55,-0.17],[0.0667,-0.35,-0.09],
[0.0683,-0.61,-0.18],[0.0693,-0.61,-0.09],[0.0701,-0.50,-0.17],[0.0712,-0.19,-0.16],[0.0720,-0.32,-0.12],[0.0728,-0.51,-0.18],
[0.0731,-0.73,-0.09],[0.0746,-0.68,-0.09],[0.0752,-0.29,-0.16],[0.0773,-0.16,-0.16],[0.0778,-0.58,-0.09],[0.0789,-0.72,-0.12],
[0.0792,-0.48,-0.17],[0.0808,-0.55,-0.18],[0.0816,-0.37,-0.17],[0.0826,-0.51,-0.17],[0.0837,-0.35,-0.16],[0.0845,-0.55,-0.18],
[0.0855,-0.48,-0.09],[0.0866,-0.53,-0.17],[0.0869,-0.76,-0.16],[0.0879,-0.35,-0.12],[0.0890,-0.51,-0.09],[0.0895,-0.60,-0.17],
[0.0906,-0.48,-0.13],[0.0816,-0.19,-0.09],[0.0853,-0.22,-0.09],[0.0890,-0.22,-0.12],[0.0667,-0.19,-0.09],[0.0693,-0.16,-0.11],
[0.0560,-0.16,-0.09],[0.0454,-0.19,-0.09],[0.0401,-0.19,-0.08],
[0.1180,0.70,0.13],[0.0913,0.58,0.04],[0.0910,0.53,0.08],[0.0929,0.48,0.07],[0.0958,0.57,0.03],[0.1007,0.46,0.08],
[0.1024,0.50,0.07],[0.1052,0.51,0.08],[0.1049,0.43,-0.02],[0.1108,0.41,0.04],[0.1280,0.55,0.10],[0.1321,0.51,0.12],
[0.1252,0.43,0.03],[0.1446,0.50,0.04],[0.0970,0.33,0.07],[0.0980,0.36,0.06],[0.0993,0.32,0.08],[0.1006,0.28,0.07],
[0.1021,0.33,-0.02],[0.1081,0.31,0.07],[0.1060,0.26,0.06],[0.1103,0.26,0.05],[0.1092,0.20,0.07],[0.1003,0.21,0.05],
[0.0910,0.36,0.06],[0.0942,0.25,0.05],[0.1352,0.21,0.06],[0.1289,0.29,-0.03],[0.1389,0.25,-0.03],[0.1596,0.14,0.03],
[0.1140,0.16,-0.03],[0.1180,0.20,-0.06],[0.1208,0.18,-0.03],[0.1237,0.20,-0.02],[0.1120,0.08,0.07],[0.1122,-0.23,0.08],
[0.1176,-0.22,0.06],[0.1237,-0.22,0.07],[0.1307,0.08,-0.03],[0.1671,0.00,-0.03],[0.1538,-0.15,-0.03],[0.1400,-0.09,-0.03],
[0.0900,-0.26,-0.17],[0.0921,-0.32,-0.09],[0.0942,-0.22,-0.08],[0.0905,-0.51,-0.09],[0.0921,-0.81,-0.17],[0.0930,-0.87,-0.17],
[0.0962,-0.83,-0.17],[0.0973,-0.78,-0.17],[0.0950,-0.69,-0.09],[0.0927,-0.64,-0.09],[0.0897,-0.63,-0.17],[0.0947,-0.40,-0.17],
[0.0966,-0.50,-0.09],[0.0978,-0.51,-0.12],[0.0977,-0.39,-0.09],[0.0998,-0.29,-0.17],[0.1001,-0.11,-0.09],[0.1014,-0.56,-0.09],
[0.1025,-0.68,-0.17],[0.1029,-0.20,-0.17],[0.1035,-0.66,-0.09],[0.1043,-0.60,-0.17],[0.1041,-0.43,-0.17],[0.1043,-0.72,-0.09],
[0.1057,-0.65,-0.17],[0.1058,-0.48,-0.17],[0.1064,-0.58,-0.09],[0.1070,-0.29,-0.09],[0.1080,-0.42,-0.17],[0.1083,-0.71,-0.17],
[0.1090,-0.63,-0.09],[0.1094,-0.50,-0.17],[0.1099,-0.56,-0.18],[0.1102,-0.09,-0.09],[0.1107,-0.22,-0.12],[0.1107,-0.39,-0.17],
[0.1118,-0.51,-0.17],[0.1122,-0.42,-0.18],[0.1128,-0.16,-0.09],[0.1137,-0.56,-0.17],[0.1138,-0.73,-0.17],[0.1142,-0.47,-0.17],
[0.1150,-0.22,-0.16],[0.1151,-0.39,-0.17],[0.1155,-0.39,-0.17],[0.1165,-0.22,-0.09],[0.1176,-0.85,-0.17],[0.1179,-0.37,-0.09],
[0.1184,-0.45,-0.09],[0.1193,-0.22,-0.17],[0.1197,-0.58,-0.17],[0.1199,-0.63,-0.17],[0.1207,-0.22,-0.17],[0.1224,-0.47,-0.09],
[0.1232,-0.50,-0.09],[0.1241,-0.44,-0.17],[0.1248,-0.34,-0.17],[0.1257,-0.46,-0.09],[0.1260,-0.58,-0.17],[0.1256,-0.72,-0.17],
[0.1268,-0.10,-0.13],[0.1271,-0.36,-0.09],[0.1277,-0.61,-0.17],[0.1285,-0.43,-0.09],[0.1299,-0.63,-0.17],[0.1309,-0.47,-0.17],
[0.1316,-0.27,-0.17],[0.1317,-0.48,-0.17],[0.1324,-0.39,-0.17],[0.1337,-0.53,-0.09],[0.1322,-0.19,-0.09],[0.1347,-0.27,-0.09],
[0.1352,-0.07,-0.09],[0.1364,-0.26,-0.09],[0.1370,-0.34,-0.17],[0.1376,-0.34,-0.17],[0.1382,-0.09,-0.09],[0.1389,-0.64,-0.17],
[0.1407,-0.48,-0.09],[0.1419,-0.66,-0.09],[0.1427,-0.09,-0.09],[0.1450,-0.17,-0.09],[0.1450,-0.33,-0.07],[0.1470,-0.09,-0.17],
[0.1495,-0.37,-0.09],[0.1500,-0.17,-0.09],[0.1503,-0.47,-0.07],[0.1560,-0.34,-0.09],[0.1565,-0.64,-0.17],[0.1579,-0.38,-0.09],
[0.1588,-0.06,-0.09],[0.1647,-0.52,-0.13],[0.1688,-0.67,-0.07],[0.1696,-0.10,-0.09],[0.1716,-0.51,-0.07],[0.1253,0.05,-0.09],
[0.1265,0.03,-0.09],[0.1281,0.04,-0.09],[0.1288,0.12,-0.09],[0.1345,0.04,-0.07],[0.1250,-0.09,-0.12],[0.1245,-0.25,-0.09],
[0.1225,-0.40,-0.09],[0.1207,-0.53,-0.09],[0.1181,-0.43,-0.07],[0.1182,0.07,-0.09],[0.1203,0.08,-0.09],[0.1176,0.05,-0.03],
[0.1192,-0.22,-0.17],[0.1165,-0.34,-0.12],[0.1128,0.00,-0.09],
[0.1735,0.06,-0.02],[0.1784,0.17,-0.03],[0.1815,-0.55,-0.10],[0.1881,0.08,-0.03],[0.1976,-0.56,-0.12],[0.2155,-0.01,-0.05],
[0.1390,-0.63,-0.17],[0.1421,-0.64,-0.13],[0.1409,-0.48,-0.12],[0.1429,-0.09,-0.09],[0.1390,0.26,-0.03],[0.1356,0.20,0.06],
[0.1322,0.52,0.17],
[0.030,0.05,-0.04],[0.031,-0.25,-0.12],[0.032,0.45,0.07],[0.033,-0.05,-0.06],[0.034,0.80,0.13],[0.035,-0.40,-0.14],
[0.036,0.25,0.02],[0.037,-0.15,-0.09],[0.038,0.40,0.06],[0.039,0.10,-0.03],[0.040,-0.30,-0.12],[0.041,0.50,0.08],
[0.042,0.00,-0.05],[0.043,-0.45,-0.15],[0.044,0.35,0.04],[0.045,0.15,-0.02],[0.046,-0.20,-0.10],[0.047,0.60,0.09],
[0.048,0.05,-0.05],[0.049,-0.50,-0.16],[0.050,0.30,0.03],[0.051,-0.10,-0.08],[0.052,0.85,0.14],[0.053,0.15,0.00],
[0.054,-0.35,-0.13],[0.055,0.40,0.05],[0.056,-0.05,-0.06],[0.057,0.70,0.11],[0.058,-0.25,-0.11],[0.059,0.30,0.02],
[0.060,-0.45,-0.15],[0.061,0.10,-0.03],[0.062,0.80,0.13],[0.063,-0.15,-0.09],[0.064,0.35,0.04],[0.065,-0.30,-0.12],
[0.066,0.05,-0.05],[0.067,0.55,0.08],[0.068,-0.40,-0.14],[0.069,0.20,0.01],[0.070,-0.10,-0.08],[0.071,0.70,0.11],
[0.072,-0.25,-0.11],[0.073,0.30,0.03],[0.074,-0.50,-0.16],[0.075,0.15,-0.01],[0.076,-0.05,-0.07],[0.077,0.60,0.09],
[0.078,-0.30,-0.12],[0.079,0.25,0.02],[0.080,-0.15,-0.09],[0.081,0.50,0.07],[0.082,-0.40,-0.14],[0.083,0.10,-0.02],
[0.084,-0.25,-0.11],[0.085,0.40,0.05],[0.086,-0.05,-0.06],[0.087,-0.45,-0.15],[0.088,0.20,0.01],[0.089,-0.20,-0.10],
[0.090,0.55,0.08],[0.091,-0.35,-0.13],[0.092,0.10,-0.03],[0.093,-0.15,-0.09],[0.094,0.35,0.04],[0.095,-0.55,-0.16],
[0.096,0.00,-0.05],[0.097,-0.30,-0.12],[0.098,0.45,0.06],[0.099,-0.10,-0.08],[0.100,-0.45,-0.15],[0.101,0.15,0.00],
[0.102,-0.25,-0.11],[0.103,0.30,0.03],[0.104,-0.60,-0.17],[0.105,0.05,-0.04],[0.106,-0.35,-0.13],[0.107,0.20,0.02],
[0.108,-0.15,-0.09],[0.109,-0.50,-0.16],[0.110,0.10,-0.02],[0.111,-0.30,-0.12],[0.112,0.35,0.05],[0.113,-0.05,-0.06],
[0.114,-0.40,-0.14],[0.115,0.20,0.01],[0.116,-0.20,-0.10],[0.117,-0.60,-0.17],[0.118,0.05,-0.04],[0.119,-0.35,-0.13],
[0.120,0.30,0.03],[0.121,-0.10,-0.08],[0.122,-0.50,-0.15],[0.123,0.10,-0.02],[0.124,-0.30,-0.12],[0.126,-0.15,-0.09],
[0.128,-0.45,-0.14],[0.129,0.15,-0.01],[0.131,-0.25,-0.11],[0.133,-0.55,-0.16],[0.134,0.05,-0.05],[0.136,-0.35,-0.13],
[0.138,-0.15,-0.08],[0.141,-0.30,-0.11],[0.143,0.10,-0.03],[0.146,-0.45,-0.14],
[0.018,-0.30,-0.12],[0.019,0.20,0.00],[0.020,-0.05,-0.06],[0.021,0.60,0.10],[0.022,-0.20,-0.10],[0.023,0.30,0.04],
[0.024,-0.35,-0.13],[0.025,0.10,-0.03],[0.026,0.75,0.12],[0.027,-0.15,-0.09],[0.028,0.35,0.05],[0.029,-0.30,-0.12],
[0.040,1.30,0.20],[0.044,1.20,0.19],[0.048,0.95,0.16],[0.053,1.15,0.18],[0.058,0.90,0.15],[0.061,1.20,0.20],
[0.064,0.95,0.16],[0.068,0.85,0.15],[0.072,0.90,0.16],[0.079,0.80,0.14],[0.082,0.60,0.12],[0.087,0.75,0.13],
[0.093,0.60,0.11],[0.099,0.55,0.10],[0.106,0.45,0.09],
[0.0205,0.10,-0.03],[0.0235,-0.05,-0.06],[0.0265,0.20,0.00],[0.0295,0.05,-0.04],[0.0325,0.15,-0.01],[0.0355,-0.10,-0.07],
[0.0385,0.30,0.03],[0.0415,-0.05,-0.05],[0.0435,0.45,0.06],[0.0445,-0.25,-0.11],[0.0465,0.05,-0.04],[0.0475,0.35,0.04],
[0.0495,-0.15,-0.09],[0.0505,0.45,0.06],[0.0515,0.00,-0.05],[0.0525,-0.45,-0.15],[0.0535,0.35,0.04],[0.0545,0.05,-0.03],
[0.0555,-0.20,-0.10],[0.0565,0.55,0.08],[0.0575,0.05,-0.05],[0.0585,-0.30,-0.12],[0.0595,0.40,0.05],[0.0605,-0.05,-0.06],
[0.0615,0.30,0.02],[0.0625,-0.35,-0.13],[0.0635,0.05,-0.04],[0.0645,0.65,0.10],[0.0655,-0.10,-0.08],[0.0665,0.30,0.03],
[0.0675,-0.25,-0.11],[0.0685,0.45,0.06],[0.0695,0.00,-0.05],[0.0705,-0.40,-0.14],[0.0715,0.25,0.02],[0.0725,-0.05,-0.06],
[0.0735,0.55,0.08],[0.0745,-0.30,-0.12],[0.0755,0.10,-0.02],[0.0765,-0.15,-0.09],[0.0775,0.40,0.05],[0.0785,-0.05,-0.06],
[0.0795,-0.40,-0.14],[0.0805,0.20,0.01],[0.0815,-0.10,-0.08],[0.0825,0.30,0.03],[0.0835,-0.30,-0.12],[0.0845,0.05,-0.04],
[0.0855,0.45,0.06],[0.0865,-0.20,-0.10],[0.0875,0.10,-0.03],[0.0885,-0.45,-0.15],[0.0895,0.25,0.02],[0.0905,-0.10,-0.08],
[0.0915,0.15,-0.01],[0.0925,-0.35,-0.13],[0.0935,0.05,-0.04],[0.0945,-0.15,-0.09],[0.0955,0.40,0.05],[0.0965,-0.25,-0.11],
[0.0975,0.10,-0.02],[0.0985,-0.45,-0.15],[0.0995,0.20,0.01],[0.1005,-0.05,-0.06],[0.1015,-0.35,-0.13],[0.1025,0.10,-0.03],
[0.1035,-0.15,-0.09],[0.1045,0.30,0.03],[0.1055,-0.25,-0.11],[0.1065,0.05,-0.04],[0.1075,-0.45,-0.15],[0.1085,0.15,0.00],
[0.1095,-0.10,-0.08],[0.1105,-0.30,-0.12],[0.1115,0.20,0.02],[0.1125,-0.20,-0.10],[0.1135,-0.05,-0.06],[0.1145,-0.35,-0.13],
[0.1155,0.10,-0.02],[0.1165,-0.50,-0.16],[0.1175,-0.10,-0.08],[0.1185,0.25,0.02],[0.1195,-0.30,-0.12],[0.1205,0.00,-0.05],
[0.1215,-0.40,-0.14],[0.1225,0.10,-0.03],[0.1235,-0.20,-0.10],[0.1255,-0.35,-0.13],[0.1275,0.00,-0.05],[0.1295,-0.25,-0.11],
[0.1315,-0.05,-0.06],[0.1335,-0.40,-0.14],[0.1355,-0.15,-0.09],[0.1375,0.05,-0.04],[0.1395,-0.30,-0.12],[0.1415,-0.50,-0.15],
[0.1435,-0.20,-0.10],[0.1455,0.00,-0.05],[0.1475,-0.30,-0.11],[0.1525,-0.25,-0.10],[0.1545,0.05,-0.04],[0.1575,-0.45,-0.13],
[0.0345,0.55,0.08],[0.0375,0.75,0.11],[0.0405,0.90,0.13],[0.0425,0.40,0.05],[0.0455,0.80,0.12],[0.0485,0.70,0.10],
[0.0515,0.85,0.12],[0.0545,0.65,0.10],[0.0575,0.80,0.12],[0.0605,0.75,0.11],[0.0635,0.50,0.07],[0.0665,0.75,0.11],
[0.0695,0.70,0.10],[0.0725,0.40,0.06],[0.0755,0.65,0.09],[0.0785,0.55,0.08],[0.0815,0.45,0.06],[0.0845,0.60,0.09],
[0.0875,0.50,0.07],[0.0905,0.40,0.06],[0.0935,0.45,0.06],[0.0965,0.25,0.03],[0.1025,0.35,0.04],[0.1085,0.30,0.04],
[0.1135,0.35,0.05],[0.1195,0.40,0.05],[0.1255,0.25,0.03],
[0.0315,-0.35,-0.13],[0.0335,-0.50,-0.16],[0.0365,-0.30,-0.12],[0.0395,-0.45,-0.15],[0.0425,-0.55,-0.17],[0.0455,-0.50,-0.16],
[0.0485,-0.65,-0.18],[0.0515,-0.55,-0.17],[0.0545,-0.60,-0.17],[0.0575,-0.55,-0.16],[0.0605,-0.65,-0.18],[0.0635,-0.55,-0.17],
[0.0665,-0.70,-0.18],[0.0695,-0.45,-0.15],[0.0725,-0.60,-0.17],[0.0755,-0.55,-0.16],[0.0785,-0.65,-0.18],[0.0815,-0.70,-0.18],
[0.0845,-0.65,-0.17],[0.0875,-0.60,-0.17],[0.0905,-0.70,-0.18],[0.0935,-0.55,-0.16],[0.0965,-0.65,-0.17],[0.0995,-0.70,-0.18],
[0.1025,-0.55,-0.16],[0.1055,-0.75,-0.18],[0.1085,-0.60,-0.17],[0.1115,-0.65,-0.17],[0.1145,-0.55,-0.16],[0.1175,-0.70,-0.18],
[0.1205,-0.65,-0.17],[0.1235,-0.60,-0.17],[0.1265,-0.50,-0.15],[0.1295,-0.55,-0.16]
];

// Binned mean residuals (black hexagons)
const binZ   = [0.0251,0.0383,0.0464,0.0525,0.0573,0.0616,0.0661,0.0709,0.0752,0.0794,0.0842,0.0900,0.0965,0.1055,0.1286];
const binDmu = [0.285,0.26,0.20,0.25,0.21,0.195,0.075,0.075,0.10,-0.02,0.005,-0.08,-0.12,-0.165,-0.20];

const zTickVals  = [0.00,0.05,0.10,0.15,0.20];
const muTickVals = [32,34,36,38,40];
const dmuTickVals = [-1,0,1,2];

// ---------------- LAYOUT HELPERS ----------------
const W = 2096, H = 2092;
const px = v => v / W;
const py = v => 1 - v / H;
const X_RANGE = [-0.00607, 0.22517];
const colourScale = [[0,'#244a84'],[0.1,'#587596'],[0.2,'#8fa3b0'],[0.3,'#c3ccc6'],[0.4,'#f3f1de'],
  [0.5,'#e6cdbc'],[0.6,'#d9a99b'],[0.7,'#cc837b'],[0.8,'#bd5e5b'],[0.9,'#b03a40'],[1,'#a51823']];
const CMIN = -0.225, CMAX = 0.275;
const tickFont = {family:'DejaVu Sans', size:26, color:'black'};
const SANS = 'Liberation Sans';
const mathSpan = s => '<span style="font-family:Liberation Serif;font-style:italic">' + s + '</span>';

const zCentres = zHistCounts.map((_, i) => (zHistEdges[i] + zHistEdges[i+1]) / 2);
const zWidths  = zHistCounts.map((_, i) => zHistEdges[i+1] - zHistEdges[i]);
const cCentres = cHistCounts.map((_, i) => (cHistEdges[i] + cHistEdges[i+1]) / 2);
const cWidths  = cHistCounts.map((_, i) => cHistEdges[i+1] - cHistEdges[i]);

const traces = [
  { type:'bar', x:zCentres, y:zHistCounts, width:zWidths, xaxis:'x', yaxis:'y3',
    marker:{color:'#808080', line:{color:'black', width:1.8}}, hoverinfo:'skip' },
  { type:'scatter', mode:'markers', x:mainPoints.map(p=>p[0]), y:mainPoints.map(p=>p[1]), xaxis:'x', yaxis:'y',
    marker:{size:17, color:mainPoints.map(p=>p[2]), colorscale:colourScale, cmin:CMIN, cmax:CMAX, opacity:0.82, line:{width:0}} },
  { type:'scatter', mode:'lines', x:curveZ, y:curveMu, xaxis:'x', yaxis:'y',
    line:{color:'black', width:4, dash:'15px,8px', shape:'spline'} },
  { type:'bar', x:cCentres, y:cHistCounts, width:cWidths, xaxis:'x4', yaxis:'y4',
    marker:{color:cCentres, colorscale:colourScale, cmin:CMIN, cmax:CMAX, line:{color:'black', width:2.4}} },
  { type:'scatter', mode:'markers', x:residualPoints.map(p=>p[0]), y:residualPoints.map(p=>p[1]), xaxis:'x2', yaxis:'y2',
    marker:{size:10, color:residualPoints.map(p=>p[2]), colorscale:colourScale, cmin:CMIN, cmax:CMAX, opacity:0.45, line:{width:0}} },
  { type:'scatter', mode:'lines', x:X_RANGE, y:[0,0], xaxis:'x2', yaxis:'y2',
    line:{color:'black', width:2.6, dash:'10px,5px'} },
  { type:'scatter', mode:'markers', x:binZ, y:binDmu, xaxis:'x2', yaxis:'y2',
    marker:{symbol:'hexagon', size:22, color:'black', line:{width:0}} }
];

const axisCommon = {showline:true, linecolor:'black', linewidth:2, mirror:true, ticks:'outside', ticklen:9,
  tickwidth:1.6, tickcolor:'black', showgrid:false, zeroline:false, tickfont:tickFont};

const layout = {
  width:W, height:H, margin:{l:0, r:0, t:0, b:0}, showlegend:false,
  paper_bgcolor:'white', plot_bgcolor:'rgba(0,0,0,0)', bargap:0,
  xaxis: Object.assign({}, axisCommon, {domain:[px(374),px(2093)], range:X_RANGE, anchor:'y',
    tickvals:zTickVals, showticklabels:false}),
  yaxis: Object.assign({}, axisCommon, {domain:[py(1430),py(557)], range:[30.995,40.636], anchor:'x',
    tickvals:muTickVals}),
  xaxis2: Object.assign({}, axisCommon, {domain:[px(374),px(2093)], range:X_RANGE, anchor:'y2',
    tickvals:zTickVals, tickformat:'.2f'}),
  yaxis2: Object.assign({}, axisCommon, {domain:[py(1842),py(1468)], range:[-1.051,2.580], anchor:'x2',
    tickvals:dmuTickVals}),
  yaxis3: {domain:[py(556.7),py(311.6)], range:[0,367.5], anchor:'x', visible:false, fixedrange:true},
  xaxis4: {domain:[px(1348),px(1899)], range:[-0.35,0.653], anchor:'y4', showline:true, linecolor:'black',
    linewidth:2.6, mirror:false, ticks:'outside', ticklen:9, tickwidth:1.6, tickcolor:'black', showgrid:false,
    zeroline:false, tickvals:cTickVals, tickformat:'.1f', tickfont:tickFont},
  yaxis4: {domain:[py(1255.3),py(1037.6)], range:[0,735], anchor:'x4', visible:false},
  annotations: [
    {text:'Distance', x:px(70), y:py(969), xref:'paper', yref:'paper', showarrow:false, textangle:-90,
     xanchor:'center', yanchor:'middle', font:{family:SANS, size:94, color:'black'}},
    {text:'modulus ' + mathSpan('μ'), x:px(194), y:py(972), xref:'paper', yref:'paper', showarrow:false, textangle:-90,
     xanchor:'center', yanchor:'middle', font:{family:SANS, size:94, color:'black'}},
    {text:'Planck 2018', x:px(70), y:py(1667), xref:'paper', yref:'paper', showarrow:false, textangle:-90,
     xanchor:'center', yanchor:'middle', font:{family:SANS, size:94, color:'black'}},
    {text:'residuals <span style="font-family:Liberation Serif">Δ</span>' + mathSpan('μ'), x:px(194), y:py(1669),
     xref:'paper', yref:'paper', showarrow:false, textangle:-90,
     xanchor:'center', yanchor:'middle', font:{family:SANS, size:94, color:'black'}},
    {text:'Redshift ' + mathSpan('z'), x:px(1205), y:py(2036), xref:'paper', yref:'paper', showarrow:false,
     xanchor:'center', yanchor:'middle', font:{family:SANS, size:93, color:'black'}},
    {text:'Colour ' + mathSpan('c'), x:px(1649), y:py(1356), xref:'paper', yref:'paper', showarrow:false,
     xanchor:'center', yanchor:'middle', font:{family:SANS, size:73, color:'black'}},
    {text:'Full ZTF', x:px(1714), y:py(330), xref:'paper', yref:'paper', showarrow:false,
     xanchor:'center', yanchor:'middle', font:{family:SANS, size:78, color:'#969696', style:'italic', lineposition:'under'}},
    {text:'Skysurvey simulation', x:px(1714), y:py(413), xref:'paper', yref:'paper', showarrow:false,
     xanchor:'center', yanchor:'middle', font:{family:SANS, size:78, color:'#969696', style:'italic', lineposition:'under'}}
  ]
};

Plotly.newPlot('chart', traces, layout, {displayModeBar:false, staticPlot:true});
</script></body></html>
